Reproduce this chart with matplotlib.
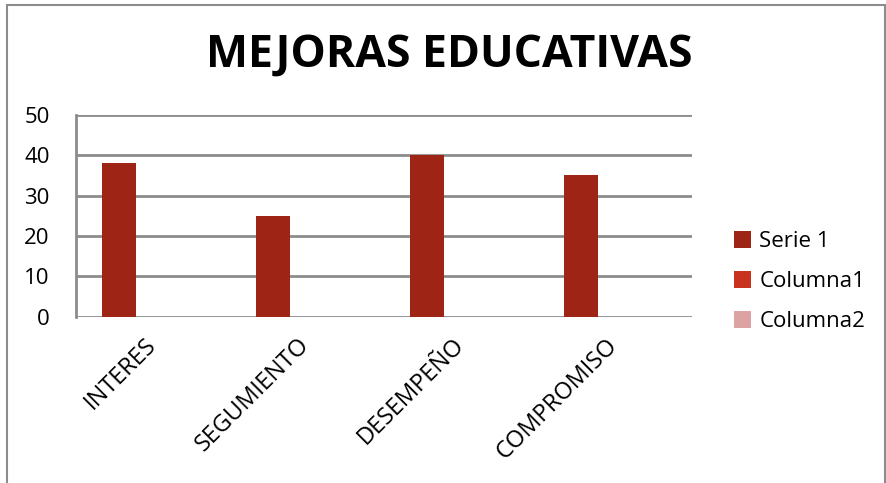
import matplotlib
matplotlib.use("Agg")
import matplotlib.pyplot as plt
import numpy as np
from matplotlib.patches import Rectangle

categories = ["INTERES", "SEGUMIENTO", "DESEMPEÑO", "COMPROMISO"]
serie1 = [38, 25, 40, 35]
columna1 = [0, 0, 0, 0]
columna2 = [0, 0, 0, 0]
series_names = ["Serie 1", "Columna1", "Columna2"]
colors = ["#9E2416", "#C8321E", "#DDA3A3"]
y_ticks = [0, 10, 20, 30, 40, 50]

plt.rcParams["font.family"] = ["Open Sans", "DejaVu Sans"]

fig = plt.figure(figsize=(8.87, 4.83), dpi=100)
ax = fig.add_axes([0.0857, 0.3443, 0.6945, 0.418])

x = np.arange(len(categories))
w = 1 / 4.5
for k, (vals, name, col) in enumerate(zip([serie1, columna1, columna2], series_names, colors)):
    ax.bar(x + (k - 1) * w, vals, width=w, color=col, label=name, zorder=3)

ax.set_xlim(-0.5, len(categories) - 0.5)
ax.set_ylim(0, 50)
ax.set_yticks(y_ticks)
ax.yaxis.grid(True, color="#8C8C8C", linewidth=2, zorder=0)
for s in ["top", "right", "bottom"]:
    ax.spines[s].set_visible(False)
ax.spines["left"].set_color("#8C8C8C")
ax.spines["left"].set_linewidth(2)
ax.tick_params(axis="y", length=0, pad=19, labelsize=16)
ax.tick_params(axis="x", length=0, pad=12, labelsize=17)
ax.set_xticks(x - 0.06)
ax.set_xticklabels(categories, rotation=45, ha="right", rotation_mode="anchor")

fig.text(0.507, 0.886, "MEJORAS EDUCATIVAS", ha="center", va="center",
         fontsize=32, fontweight="bold")

ax.legend(loc="center left", bbox_to_anchor=(1.035, 0.175), frameon=False,
          fontsize=16, handlelength=0.8, handleheight=0.8, handletextpad=0.35,
          labelspacing=0.85)

fig.patches.append(Rectangle((7 / 887, -0.01), 878 / 887, 1.01 - 5 / 483,
                             transform=fig.transFigure, fill=False,
                             edgecolor="#8C8C8C", linewidth=1.5))

fig.savefig("out.png", dpi=100)
